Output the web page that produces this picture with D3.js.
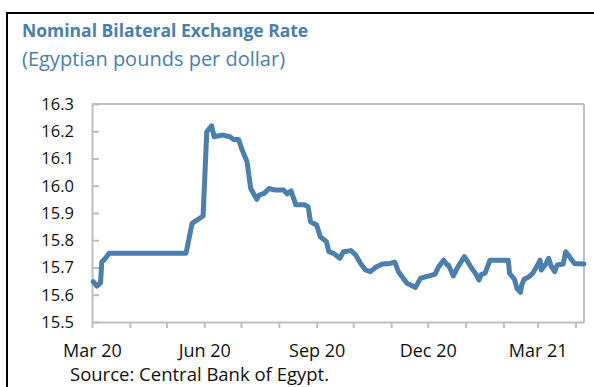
<!DOCTYPE html>
<meta charset="utf-8">
<title>Nominal Bilateral Exchange Rate</title>
<script src="https://d3js.org/d3.v7.min.js"></script>
<style>
  body { margin: 0; background: #fff; }
  text { font-family: 'Open Sans', sans-serif; }
  text.title { font-size: 17.5px; font-weight: bold; fill: #4a7fb0; }
  text.subtitle { font-size: 20px; fill: #4a7fb0; }
  text.source { font-size: 18.5px; fill: #111; }
  .axis text { font-size: 16px; fill: #111; }
  .axis path, .axis line { stroke: #bfbfbf; stroke-width: 2px; }
</style>
<div id="chart"></div>
<script>
// exchange rate readings (EGP per USD)
var dates = [
  "2020-03-02","2020-03-05","2020-03-08","2020-03-09","2020-03-12","2020-03-15",
  "2020-05-17","2020-05-19","2020-05-22","2020-05-31","2020-06-03","2020-06-07",
  "2020-06-09","2020-06-16","2020-06-22","2020-06-25","2020-06-29","2020-07-02",
  "2020-07-06","2020-07-09","2020-07-14","2020-07-16","2020-07-20","2020-07-24",
  "2020-07-29","2020-08-05","2020-08-08","2020-08-11","2020-08-15","2020-08-22",
  "2020-08-25","2020-08-27","2020-09-01","2020-09-04","2020-09-09","2020-09-11",
  "2020-09-15","2020-09-20","2020-09-23","2020-09-29","2020-10-03","2020-10-07",
  "2020-10-11","2020-10-15","2020-10-20","2020-10-25","2020-10-31","2020-11-04",
  "2020-11-07","2020-11-10","2020-11-14","2020-11-17","2020-11-21","2020-11-25",
  "2020-11-29","2020-12-03","2020-12-07","2020-12-10","2020-12-14","2020-12-17",
  "2020-12-18","2020-12-22","2020-12-25","2020-12-31","2021-01-02","2021-01-06",
  "2021-01-09","2021-01-12","2021-01-14","2021-01-17","2021-01-21","2021-02-05",
  "2021-02-06","2021-02-10","2021-02-12","2021-02-15","2021-02-16","2021-02-18",
  "2021-02-22","2021-02-25","2021-03-01","2021-03-03","2021-03-04","2021-03-08",
  "2021-03-10","2021-03-12","2021-03-15","2021-03-17","2021-03-22","2021-03-24",
  "2021-03-27","2021-03-31","2021-04-08"
];
var rates = [
  15.648,15.632,15.644,15.720,15.734,15.752,
  15.752,15.795,15.862,15.889,16.198,16.220,
  16.180,16.186,16.180,16.170,16.170,16.131,
  16.088,15.990,15.950,15.966,15.972,15.990,
  15.984,15.984,15.970,15.981,15.930,15.930,
  15.923,15.868,15.856,15.813,15.795,15.758,
  15.752,15.734,15.758,15.762,15.746,15.715,
  15.691,15.685,15.703,15.713,15.715,15.720,
  15.685,15.666,15.642,15.636,15.627,15.660,
  15.666,15.670,15.676,15.703,15.727,15.709,
  15.709,15.669,15.697,15.740,15.727,15.697,
  15.679,15.654,15.675,15.679,15.727,15.727,
  15.679,15.657,15.624,15.609,15.636,15.657,
  15.666,15.679,15.709,15.727,15.691,15.715,
  15.734,15.706,15.685,15.709,15.713,15.758,
  15.740,15.715,15.713
];
var yTicks = [15.5, 15.6, 15.7, 15.8, 15.9, 16.0, 16.1, 16.2, 16.3];
var monthNames = ["Jan","Feb","Mar","Apr","May","Jun","Jul","Aug","Sep","Oct","Nov","Dec"];

var W = 594, H = 387;
var margin = {top: 104, right: 10, bottom: 65, left: 92};

var parse = d3.timeParse("%Y-%m-%d");
var data = dates.map(function(d, i) { return {date: parse(d), value: rates[i]}; });

var svg = d3.select("#chart").append("svg")
    .attr("width", W)
    .attr("height", H);

// outer frame
svg.append("rect")
    .attr("x", 7).attr("y", 13)
    .attr("width", 620).attr("height", 420)
    .attr("fill", "none")
    .attr("stroke", "#000")
    .attr("stroke-width", 2);

svg.append("text").attr("class", "title")
    .attr("x", 22).attr("y", 37)
    .text("Nominal Bilateral Exchange Rate");
svg.append("text").attr("class", "subtitle")
    .attr("x", 22).attr("y", 66)
    .text("(Egyptian pounds per dollar)");

var x = d3.scaleTime()
    .domain([parse("2020-03-01"), parse("2021-04-08")])
    .range([margin.left, W - margin.right]);
var y = d3.scaleLinear()
    .domain([15.5, 16.3])
    .range([H - margin.bottom, margin.top]);

// plot box (top and right)
svg.append("line")
    .attr("x1", x.range()[0]).attr("x2", x.range()[1])
    .attr("y1", y(16.3)).attr("y2", y(16.3))
    .attr("stroke", "#bfbfbf").attr("stroke-width", 2);
svg.append("line")
    .attr("x1", x.range()[1]).attr("x2", x.range()[1])
    .attr("y1", y(16.3)).attr("y2", y(15.5))
    .attr("stroke", "#bfbfbf").attr("stroke-width", 2);

var yAxis = svg.append("g").attr("class", "axis")
    .attr("transform", "translate(" + margin.left + ",0)")
    .call(d3.axisLeft(y).tickValues(yTicks).tickFormat(d3.format(".1f"))
        .tickSizeInner(-7).tickSizeOuter(0).tickPadding(18));
yAxis.selectAll("text").style("font-size", "16.5px");

var xAxis = svg.append("g").attr("class", "axis")
    .attr("transform", "translate(0," + y(15.5) + ")")
    .call(d3.axisBottom(x).ticks(d3.timeMonth.every(1))
        .tickFormat(function(d) {
            return d.getMonth() % 3 === 2 ? monthNames[d.getMonth()] + " " + String(d.getFullYear()).slice(2) : "";
        })
        .tickSizeInner(6).tickSizeOuter(0).tickPadding(16));
xAxis.selectAll("text").style("font-size", "18px");

var line = d3.line()
    .x(function(d) { return x(d.date); })
    .y(function(d) { return y(d.value); });

svg.append("path")
    .datum(data)
    .attr("d", line)
    .attr("fill", "none")
    .attr("stroke", "#4a7fb0")
    .attr("stroke-width", 5)
    .attr("stroke-linejoin", "round")
    .attr("stroke-linecap", "round");

svg.append("text").attr("class", "source")
    .attr("x", 70).attr("y", 381)
    .text("Source: Central Bank of Egypt.");
</script>
